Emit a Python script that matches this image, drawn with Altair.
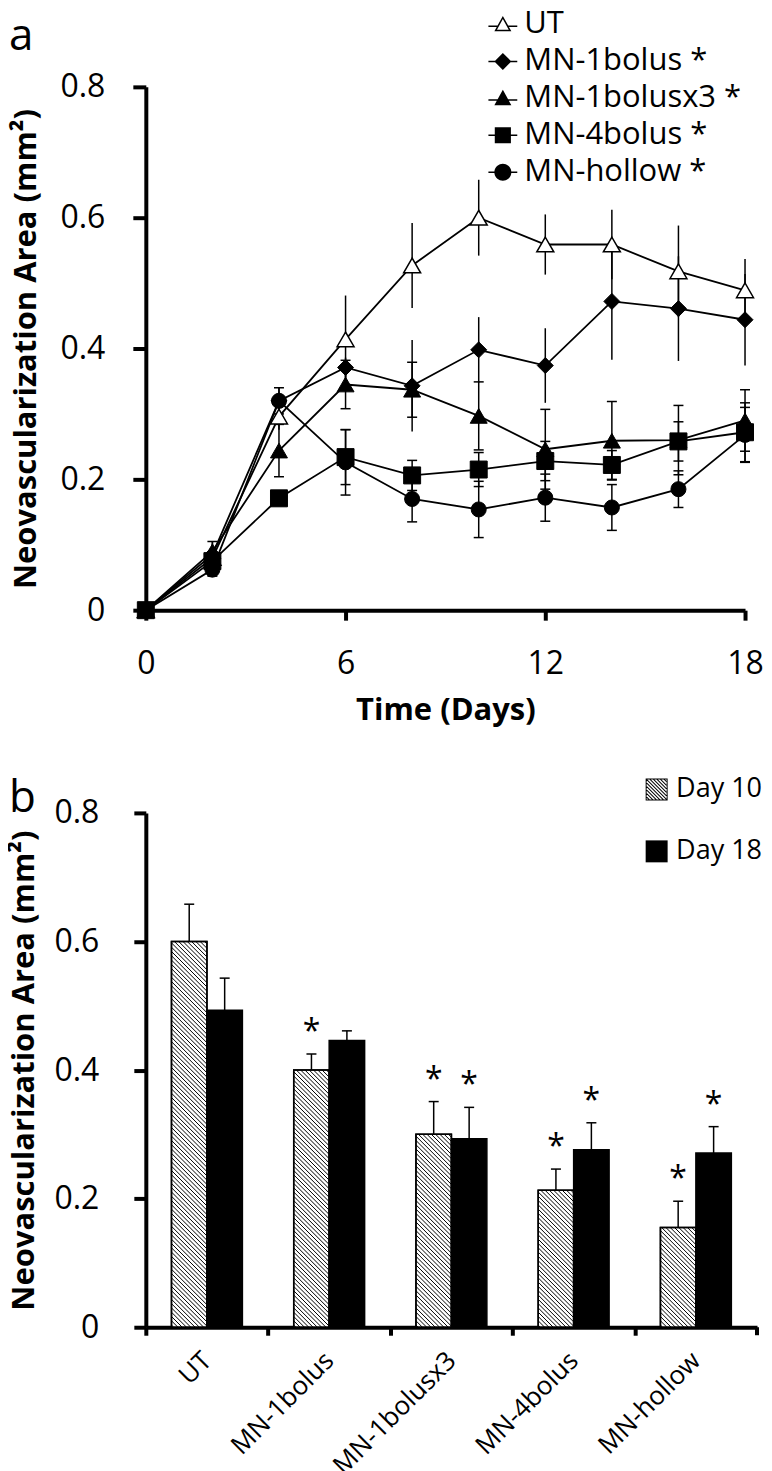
import math
import altair as alt
import pandas as pd

# ---------------- Panel a: time course ----------------
days = [0, 2, 4, 6, 8, 10, 12, 14, 16, 18]
series_names = ["UT", "MN-1bolus", "MN-1bolusx3", "MN-4bolus", "MN-hollow"]
ut_mean = [0, 0.080, 0.296, 0.414, 0.527, 0.600, 0.559, 0.559, 0.518, 0.489]
ut_err = [0, 0.020, 0.020, 0.067, 0.065, 0.058, 0.046, 0.053, 0.070, 0.048]
bolus1_mean = [0, 0.085, 0.320, 0.371, 0.343, 0.398, 0.374, 0.472, 0.461, 0.444]
bolus1_err = [0, 0.020, 0.020, 0.015, 0.070, 0.050, 0.057, 0.089, 0.080, 0.070]
bolus1x3_mean = [0, 0.090, 0.244, 0.345, 0.337, 0.297, 0.246, 0.259, 0.260, 0.290]
bolus1x3_err = [0, 0.015, 0.040, 0.037, 0.042, 0.052, 0.061, 0.060, 0.053, 0.047]
bolus4_mean = [0, 0.075, 0.171, 0.234, 0.206, 0.215, 0.228, 0.222, 0.258, 0.272]
bolus4_err = [0, 0.010, 0.010, 0.042, 0.023, 0.026, 0.030, 0.022, 0.030, 0.045]
hollow_mean = [0, 0.062, 0.320, 0.226, 0.170, 0.154, 0.172, 0.157, 0.185, 0.268]
hollow_err = [0, 0.010, 0.020, 0.050, 0.035, 0.043, 0.036, 0.035, 0.028, 0.042]
capped_series = ["MN-1bolusx3", "MN-4bolus", "MN-hollow"]
significant_a = ["MN-1bolus", "MN-1bolusx3", "MN-4bolus", "MN-hollow"]

# ---------------- Panel b: Day 10 / Day 18 bars ----------------
groups = ["UT", "MN-1bolus", "MN-1bolusx3", "MN-4bolus", "MN-hollow"]
day_names = ["Day 10", "Day 18"]
day10_mean = [0.600, 0.400, 0.300, 0.213, 0.155]
day10_err = [0.058, 0.025, 0.051, 0.033, 0.041]
day18_mean = [0.493, 0.446, 0.293, 0.276, 0.271]
day18_err = [0.050, 0.015, 0.049, 0.042, 0.041]
day10_sig = [False, True, True, True, True]
day18_sig = [False, False, True, True, True]

Y_TITLE = "Neovascularization Area (mm²)"
FONT = "Open Sans"


# ---------- helper: symbol paths drawn with fill only ----------
def rect(x0, y0, x1, y1):
    return "M%.3f,%.3fH%.3fV%.3fH%.3fZ" % (x0, y0, x1, y1, x0)


def stubs(y, a, t=0.09, reach=1.7):
    return rect(-reach, y - t, -a, y + t) + rect(a, y - t, reach, y + t)


def circle_path(r, n=36):
    pts = ["%.3f,%.3f" % (r * math.cos(2 * math.pi * k / n), r * math.sin(2 * math.pi * k / n))
           for k in range(n)]
    return "M" + "L".join(pts) + "Z"


TRI = "M0,-1L1,0.8L-1,0.8Z"
TRI_HOLE = "M0,-0.629L-0.694,0.62L0.694,0.62Z"
legend_paths = [
    TRI + TRI_HOLE + stubs(0.2, 0.64),
    "M0,-1L1,0L0,1L-1,0Z" + stubs(0, 0.9),
    TRI + stubs(0.2, 0.6),
    rect(-0.95, -0.95, 0.95, 0.95) + stubs(0, 0.9),
    circle_path(1.0) + stubs(0, 0.95),
]

q = 0.91
w = 0.064
hatch_sym = rect(-1, -1, 1, 1) + "M%.3f,%.3fV%.3fH%.3fV%.3fZ" % (-q, -q, q, q, -q)
c = -1.6
while c <= 1.601:
    xs = max(-q, -q + c)
    xe = min(q, q + c)
    if xe - xs > 0.05:
        ys, ye = xs - c, xe - c
        hatch_sym += "M%.3f,%.3fL%.3f,%.3fL%.3f,%.3fL%.3f,%.3fZ" % (
            xs - w, ys, xs + w, ys, xe + w, ye, xe - w, ye)
    c += 0.32

# ---------- build table a ----------
rows = []
for name, m, e in zip(series_names,
                      [ut_mean, bolus1_mean, bolus1x3_mean, bolus4_mean, hollow_mean],
                      [ut_err, bolus1_err, bolus1x3_err, bolus4_err, hollow_err]):
    for d, v, er in zip(days, m, e):
        rows.append(dict(series=name, day=d, value=v, lo=v - er, hi=v + er,
                         capped=name in capped_series))
dfa = pd.DataFrame(rows)

WA, HA = 600, 524
sx = alt.Scale(domain=[0, 18], nice=False, zero=False)
sy = alt.Scale(domain=[0, 0.8], nice=False, zero=True)
ax_x = alt.Axis(values=[0, 6, 12, 18], title="Time (Days)", labelFlush=False,
                tickSize=10, labelPadding=28, titlePadding=16)
ax_y = alt.Axis(values=[0, 0.2, 0.4, 0.6, 0.8], title=Y_TITLE,
                labelExpr="datum.value == 0 ? '0' : format(datum.value, '.1f')",
                tickSize=13, labelPadding=28, titlePadding=17)
XA = alt.X("day:Q", scale=sx, axis=ax_x)

base = alt.Chart(dfa)
lines = base.mark_line(color="black", strokeWidth=1.8).encode(
    x=XA, y=alt.Y("value:Q", scale=sy, axis=ax_y), detail="series:N", order="day:Q")
errs = base.mark_rule(color="black", strokeWidth=1.5).encode(
    x=XA, y=alt.Y("lo:Q", scale=sy, axis=ax_y), y2="hi:Q")
caps_lo = base.transform_filter("datum.capped").mark_tick(
    orient="horizontal", size=10, thickness=1.5, color="black", opacity=1).encode(
    x=XA, y=alt.Y("lo:Q", scale=sy, axis=ax_y))
caps_hi = base.transform_filter("datum.capped").mark_tick(
    orient="horizontal", size=10, thickness=1.5, color="black", opacity=1).encode(
    x=XA, y=alt.Y("hi:Q", scale=sy, axis=ax_y))

marker_style = {
    "UT": dict(shape="triangle-up", fill="white", size=289, strokeWidth=1.5),
    "MN-1bolus": dict(shape="diamond", fill="black", size=256, strokeWidth=1),
    "MN-1bolusx3": dict(shape="triangle-up", fill="black", size=289, strokeWidth=1),
    "MN-4bolus": dict(shape="square", fill="black", size=289, strokeWidth=1),
    "MN-hollow": dict(shape="circle", fill="black", size=227, strokeWidth=1),
}
point_layers = []
for name in series_names:
    st = marker_style[name]
    point_layers.append(
        base.transform_filter(alt.datum.series == name).mark_point(
            shape=st["shape"], filled=True, fill=st["fill"], stroke="black",
            strokeWidth=st["strokeWidth"], size=st["size"], opacity=1).encode(
            x=XA, y=alt.Y("value:Q", scale=sy, axis=ax_y)))

sig_list = "[" + ",".join("'%s'" % s for s in significant_a) + "]"
leg_a = alt.Legend(title=None, orient="none", legendX=342, legendY=-78, padding=0,
                   symbolSize=289, symbolFillColor="black", symbolStrokeWidth=0,
                   symbolOpacity=1,
                   labelFontSize=31, labelFont=FONT, labelColor="black", labelOffset=6,
                   rowPadding=5, labelLimit=400,
                   labelExpr="indexof(%s, datum.label) >= 0 ? datum.label + ' *' : datum.label" % sig_list)
legend_layer_a = base.transform_filter("datum.value < 0").mark_point(
    filled=True, fill="black", opacity=1, strokeWidth=0).encode(
    x=XA, y=alt.Y("value:Q", scale=sy, axis=ax_y),
    shape=alt.Shape("series:N", scale=alt.Scale(domain=series_names, range=legend_paths), legend=leg_a))

letter_a = alt.Chart(pd.DataFrame({"t": ["a"]})).mark_text(
    fontSize=44, align="left", baseline="alphabetic", color="black", font=FONT).encode(
    text="t:N", x=alt.value(-137), y=alt.value(-37))

top = alt.layer(lines, errs, caps_lo, caps_hi, *point_layers, legend_layer_a, letter_a).properties(
    width=WA, height=HA)

# ---------- build table b ----------
WB, HB = 612, 515
px_x = WB / 5.0
px_y = HB / 0.8
bw = 35.5 / px_x
rows = []
for i, g in enumerate(groups):
    for dname, m, e, s in [("Day 10", day10_mean[i], day10_err[i], day10_sig[i]),
                           ("Day 18", day18_mean[i], day18_err[i], day18_sig[i])]:
        x0 = i + 0.5 - bw if dname == "Day 10" else i + 0.5
        rows.append(dict(group=g, day=dname, value=m, hi=m + e, sig=s,
                         x0=x0, x1=x0 + bw, xc=x0 + bw / 2))
dfb = pd.DataFrame(rows)

# diagonal hatching for the Day 10 bars
hatch_step = 4.3
hrows = []
for i, v in enumerate(day10_mean):
    x0p = (i + 0.5 - bw) * px_x
    x1p = (i + 0.5) * px_x
    hp = v * px_y
    cc = x0p + hatch_step / 2
    while cc < x1p + hp:
        xa = max(x0p, cc - hp)
        xb = min(x1p, cc)
        if xb > xa:
            hrows.append(dict(xa=xa / px_x, ya=(cc - xa) / px_y, xb=xb / px_x, yb=(cc - xb) / px_y))
        cc += hatch_step
dfh = pd.DataFrame(hrows)

sxb = alt.Scale(domain=[0, 5], nice=False, zero=False)
syb = alt.Scale(domain=[0, 0.8], nice=False, zero=True)
label_expr = "[" + ",".join("'%s'" % g for g in groups) + "][datum.value]"
ax_xb = alt.Axis(values=[0, 1, 2, 3, 4], labelExpr=label_expr, title=None,
                 labelAngle=315, labelAlign="right", labelBaseline="middle",
                 labelOffset=px_x / 2, labelFlush=False, labelOverlap=False,
                 tickSize=8, labelPadding=21, labelFontSize=26)
ax_yb = alt.Axis(values=[0, 0.2, 0.4, 0.6, 0.8], title=Y_TITLE,
                 labelExpr="datum.value == 0 ? '0' : format(datum.value, '.1f')",
                 tickSize=12, labelPadding=35, titlePadding=13)
XB0 = alt.X("x0:Q", scale=sxb, axis=ax_xb)
XBC = alt.X("xc:Q", scale=sxb, axis=ax_xb)
YBV = alt.Y("value:Q", scale=syb, axis=ax_yb)

bbase = alt.Chart(dfb)
bars10 = bbase.transform_filter(alt.datum.day == "Day 10").mark_rect(
    fill="white", stroke="black", strokeWidth=1.5).encode(
    x=XB0, x2="x1:Q", y=YBV, y2=alt.datum(0))
hatch = alt.Chart(dfh).mark_rule(color="black", strokeWidth=1).encode(
    x=alt.X("xa:Q", scale=sxb, axis=ax_xb), x2="xb:Q",
    y=alt.Y("ya:Q", scale=syb, axis=ax_yb), y2="yb:Q")
outline10 = bbase.transform_filter(alt.datum.day == "Day 10").mark_rect(
    fillOpacity=0, stroke="black", strokeWidth=1.5).encode(
    x=XB0, x2="x1:Q", y=YBV, y2=alt.datum(0))
bars18 = bbase.transform_filter(alt.datum.day == "Day 18").mark_rect(
    fill="black", stroke="black", strokeWidth=1.5).encode(
    x=XB0, x2="x1:Q", y=YBV, y2=alt.datum(0))
berr = bbase.mark_rule(color="black", strokeWidth=1.5).encode(
    x=XBC, y=YBV, y2="hi:Q")
bcap = bbase.mark_tick(orient="horizontal", size=10, thickness=1.5, color="black", opacity=1).encode(
    x=XBC, y=alt.Y("hi:Q", scale=syb, axis=ax_yb))
stars = bbase.transform_filter("datum.sig").mark_text(
    text="*", fontSize=32, baseline="alphabetic", align="center", dy=-12, color="black", font=FONT).encode(
    x=XBC, y=alt.Y("hi:Q", scale=syb, axis=ax_yb))
# closing tick at the right end of the category axis
end_tick = alt.Chart(pd.DataFrame({"edge": [len(groups)]})).mark_rule(
    color="black", strokeWidth=4).encode(
    x=alt.X("edge:Q", scale=sxb, axis=ax_xb), y=alt.value(HB), y2=alt.value(HB + 8))

leg_common = dict(title=None, orient="none", legendX=498, padding=0, symbolSize=484,
                  symbolStrokeWidth=0, symbolOpacity=1, labelFontSize=27, labelFont=FONT,
                  labelColor="black", labelOffset=6)
legend_layer_b10 = bbase.transform_filter("datum.value < 0").mark_point(
    filled=True, fill="black", opacity=1, strokeWidth=0).encode(
    x=XBC, y=YBV,
    shape=alt.Shape("day:N", scale=alt.Scale(domain=day_names[:1], range=[hatch_sym]),
                    legend=alt.Legend(legendY=-37, symbolFillColor="black", **leg_common)))
legend_layer_b18 = bbase.transform_filter("datum.value < 0").mark_point(
    filled=True, opacity=1, strokeWidth=0).encode(
    x=XBC, y=YBV,
    fill=alt.Fill("day:N", scale=alt.Scale(domain=day_names[1:], range=["black"]),
                  legend=alt.Legend(legendY=25, symbolType="square", **leg_common)))

letter_b = alt.Chart(pd.DataFrame({"t": ["b"]})).mark_text(
    fontSize=44, align="left", baseline="alphabetic", color="black", font=FONT).encode(
    text="t:N", x=alt.value(-137), y=alt.value(-1))

bottom = alt.layer(bars10, hatch, outline10, bars18, berr, bcap, stars, end_tick,
                   legend_layer_b10, legend_layer_b18, letter_b).properties(width=WB, height=HB)

chart = alt.concat(top, bottom, columns=1, spacing=51, align="none").resolve_scale(
    shape="independent", fill="independent"
).properties(padding=0, background="white").configure(
    font=FONT
).configure_view(stroke=None).configure_axis(
    domainColor="black", tickColor="black", labelColor="black", titleColor="black",
    domainWidth=4, tickWidth=4, grid=False, labelFont=FONT, titleFont=FONT,
    labelFontSize=32, titleFontSize=31, titleFontWeight="bold"
)

chart.save("out.html", embed_options={"renderer": "svg", "actions": False})
